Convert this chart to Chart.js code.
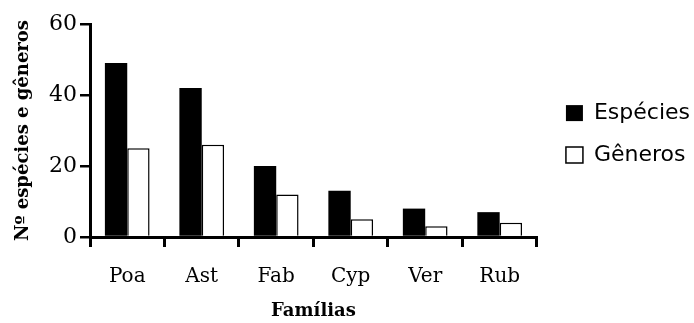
<!DOCTYPE html>
<html>
<head>
<meta charset="utf-8">
<script src="https://cdn.jsdelivr.net/npm/chart.js@4.4.0/dist/chart.umd.min.js"></script>
<style>
  html, body { margin: 0; padding: 0; background: #fff; }
  #box { width: 694px; height: 323px; }
</style>
</head>
<body>
<div id="box"><canvas id="grafico"></canvas></div>
<script>
// familias y conteos
const familias = ["Poa", "Ast", "Fab", "Cyp", "Ver", "Rub"];
const especies = [49, 42, 20, 13, 8, 7];
const generos = [25, 26, 12, 5, 3, 4];
const yTicks = [0, 20, 40, 60];

const serif = "'DejaVu Serif', serif";
const sans = "'DejaVu Sans', sans-serif";

const ctx = document.getElementById("grafico");
const myChart = new Chart(ctx, {
  type: "bar",
  data: {
    labels: familias,
    datasets: [{
      label: "Espécies",
      data: especies,
      backgroundColor: "#000",
      borderColor: "#000",
      borderWidth: 0,
      categoryPercentage: 0.6,
      barPercentage: 1.0
    },
    {
      label: "Gêneros",
      data: generos,
      backgroundColor: "#fff",
      borderColor: "#000",
      borderWidth: 1.5,
      categoryPercentage: 0.6,
      barPercentage: 1.0
    }]
  },
  options: {
    responsive: true,
    maintainAspectRatio: false,
    animation: false,
    layout: { padding: { top: 24, right: -6, left: 0, bottom: 0 } },
    plugins: {
      tooltip: { enabled: false },
      legend: {
        position: "right",
        fullSize: false,
        maxWidth: 180,
        // titulo vacio solo para bajar un poco los items
        title: { display: true, text: " ", font: { size: 6, lineHeight: 1.2 }, padding: 0 },
        labels: {
          color: "#000",
          font: { family: sans, size: 22, lineHeight: 1.2 },
          boxWidth: 17,
          boxHeight: 16,
          padding: 20
        }
      }
    },
    scales: {
      x: {
        grid: { display: true, drawOnChartArea: false, offset: true, color: "#000", lineWidth: 3, tickLength: 10 },
        border: { display: true, color: "#000", width: 3 },
        ticks: { color: "#000", font: { family: serif, size: 20 }, padding: 18 },
        title: { display: true, text: "Famílias", color: "#000", font: { family: serif, size: 18, weight: "bold" }, padding: { top: 0, bottom: 1 } },
        afterFit: (s) => { s.height = 86; }
      },
      y: {
        min: 0,
        max: 60,
        afterBuildTicks: (s) => { s.ticks = yTicks.map(v => ({ value: v })); },
        grid: { display: true, drawOnChartArea: false, color: "#000", lineWidth: 2.5, tickLength: 10 },
        border: { display: true, color: "#000", width: 3 },
        ticks: { color: "#000", font: { family: serif, size: 22 }, padding: 3 },
        title: { display: true, text: "Nº espécies e gêneros", color: "#000", font: { family: serif, size: 18, weight: "bold" }, padding: { top: 13, bottom: 0 } },
        afterFit: (s) => { s.width = 90; }
      },
      espaco: {
        position: "right",
        display: true,
        grid: { display: false },
        border: { display: false },
        ticks: { display: false },
        afterFit: (s) => { s.width = 9; }
      }
    }
  }
});
</script>
</body>
</html>
